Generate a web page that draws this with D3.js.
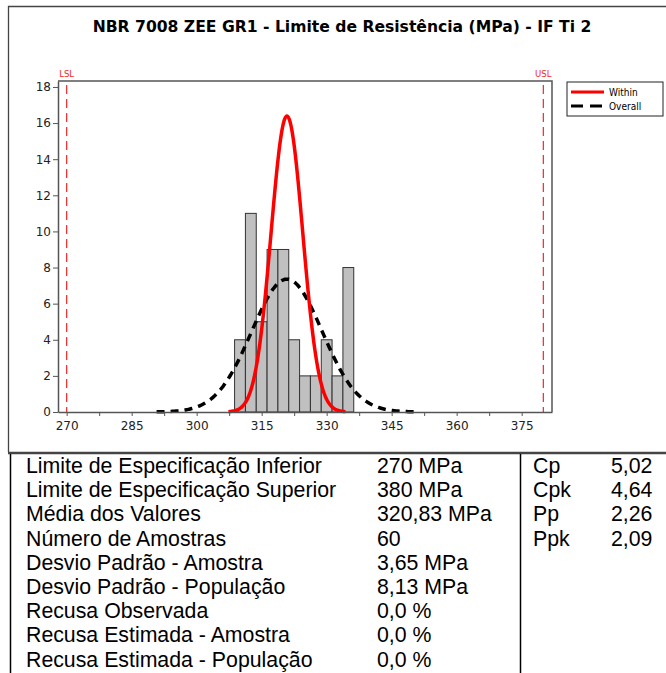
<!DOCTYPE html>
<html>
<head>
<meta charset="utf-8">
<script src="https://cdn.jsdelivr.net/npm/d3@7"></script>
<style>
  body { margin: 0; background: #fff; }
  svg { display: block; }
</style>
</head>
<body>
<div class="chart"></div>
<script>
// Capability histogram, NBR 7008 ZEE GR1 - Limite de Resistencia

var title = "NBR 7008 ZEE GR1 - Limite de Resistência (MPa) - IF Ti 2";

// histogram bins (centres, MPa) and counts
var binCenters = [310, 312.5, 315, 317.5, 320, 322.5, 325, 327.5, 330, 332.5, 335];
var binCounts  = [4, 11, 5, 9, 9, 4, 2, 2, 4, 2, 8];
var binWidth   = 2.5;

var xTicks = [270, 285, 300, 315, 330, 345, 360, 375];
var xMinor = [277.5, 292.5, 307.5, 322.5, 337.5, 352.5, 367.5];
var yTicks = [0, 2, 4, 6, 8, 10, 12, 14, 16, 18];

var lsl = 270, usl = 380;
var mean = 320.83, sdWithin = 3.65, sdOverall = 8.13, nSamples = 60;

var statLabels = ["Limite de Especificação Inferior", "Limite de Especificação Superior",
                  "Média dos Valores", "Número de Amostras", "Desvio Padrão - Amostra",
                  "Desvio Padrão - População", "Recusa Observada",
                  "Recusa Estimada - Amostra", "Recusa Estimada - População"];
var statValues = ["270 MPa", "380 MPa", "320,83 MPa", "60", "3,65 MPa", "8,13 MPa",
                  "0,0 %", "0,0 %", "0,0 %"];
var capLabels = ["Cp", "Cpk", "Pp", "Ppk"];
var capValues = ["5,02", "4,64", "2,26", "2,09"];

var W = 666, H = 673;
var plot = {left: 58, right: 552, top: 81, bottom: 412};
var tableFont = 21.3;

var svg = d3.select(".chart").append("svg")
    .attr("width", W)
    .attr("height", H);

var x = d3.scaleLinear().domain([268, 382]).range([plot.left, plot.right]);
var y = d3.scaleLinear().domain([0, 18.33]).range([plot.bottom, plot.top]);

// outer frame of chart
svg.append("path")
    .attr("d", "M8.5,452 L8.5,6.5 L666,6.5")
    .attr("fill", "none")
    .attr("stroke", "#444")
    .attr("stroke-width", 1.3);
svg.append("line")
    .attr("x1", 8).attr("x2", W)
    .attr("y1", 453).attr("y2", 453)
    .attr("stroke", "#444")
    .attr("stroke-width", 2.5);

svg.append("text")
    .attr("x", 342).attr("y", 32)
    .attr("text-anchor", "middle")
    .attr("font-family", "DejaVu Sans, sans-serif")
    .attr("font-weight", "bold")
    .attr("font-size", 15.6)
    .attr("fill", "#000")
    .text(title);

// histogram bars
svg.selectAll(".bar")
    .data(binCenters)
    .enter()
    .append("rect")
    .attr("class", "bar")
    .attr("x", function(d) { return x(d - binWidth / 2); })
    .attr("width", function(d) { return x(d + binWidth / 2) - x(d - binWidth / 2); })
    .attr("y", function(d, i) { return y(binCounts[i]); })
    .attr("height", function(d, i) { return y(0) - y(binCounts[i]); })
    .attr("fill", "#c0c0c0")
    .attr("stroke", "#333")
    .attr("stroke-width", 1);

// spec limits
[{v: lsl, t: "LSL"}, {v: usl, t: "USL"}].forEach(function(s) {
    svg.append("line")
        .attr("x1", x(s.v)).attr("x2", x(s.v))
        .attr("y1", plot.top + 4).attr("y2", plot.bottom)
        .attr("stroke", "#f02828")
        .attr("stroke-width", 1.2)
        .attr("stroke-dasharray", "9,5");
    svg.append("text")
        .attr("x", x(s.v)).attr("y", 77)
        .attr("text-anchor", "middle")
        .attr("font-family", "DejaVu Sans Condensed, DejaVu Sans, sans-serif")
        .attr("font-size", 9.5)
        .attr("fill", "#f02828")
        .text(s.t);
});

// normal curves from the stated mean / std deviations
function normalCurve(sd) {
    var k = nSamples * binWidth / (sd * Math.sqrt(2 * Math.PI));
    return d3.range(-3.7, 3.7001, 0.05).map(function(z) {
        var v = mean + z * sd;
        return [v, k * Math.exp(-0.5 * z * z)];
    });
}

var line = d3.line()
    .x(function(d) { return x(d[0]); })
    .y(function(d) { return y(d[1]); })
    .curve(d3.curveBasis);

svg.append("path")
    .datum(normalCurve(sdOverall))
    .attr("d", line)
    .attr("fill", "none")
    .attr("stroke", "#000")
    .attr("stroke-width", 3.5)
    .attr("stroke-dasharray", "8,6");

svg.append("path")
    .datum(normalCurve(sdWithin))
    .attr("d", line)
    .attr("fill", "none")
    .attr("stroke", "#ff0000")
    .attr("stroke-width", 3.5);

// plot frame (top/right)
svg.append("path")
    .attr("d", "M" + plot.left + "," + plot.top + " L" + plot.right + "," + plot.top + " L" + plot.right + "," + plot.bottom)
    .attr("fill", "none")
    .attr("stroke", "#555")
    .attr("stroke-width", 1.5);

// axes
var xAxis = svg.append("g")
    .attr("transform", "translate(0," + plot.bottom + ")")
    .call(d3.axisBottom(x).tickValues(xTicks).tickSize(4).tickPadding(5).tickSizeOuter(0));
svg.append("g")
    .attr("transform", "translate(0," + plot.bottom + ")")
    .call(d3.axisBottom(x).tickValues(xMinor).tickSize(4).tickFormat("").tickSizeOuter(0))
    .select(".domain").remove();
var yAxis = svg.append("g")
    .attr("transform", "translate(" + plot.left + ",0)")
    .call(d3.axisLeft(y).tickValues(yTicks).tickSize(5).tickPadding(2).tickSizeOuter(0));

svg.selectAll(".domain").attr("stroke", "#555").attr("stroke-width", 1.5);
svg.selectAll(".tick line").attr("stroke", "#555");
svg.selectAll(".tick text")
    .attr("font-family", "DejaVu Sans, sans-serif")
    .attr("font-size", 12)
    .attr("fill", "#222");

// legend
var lg = svg.append("g").attr("transform", "translate(567,82)");
lg.append("rect")
    .attr("width", 96).attr("height", 34)
    .attr("fill", "#fff")
    .attr("stroke", "#222")
    .attr("stroke-width", 1);
var legendItems = [{name: "Within", color: "#ff0000", dash: null},
                   {name: "Overall", color: "#000", dash: "12,7"}];
legendItems.forEach(function(d, i) {
    var ly = 10 + i * 14;
    lg.append("line")
        .attr("x1", 4).attr("x2", 37)
        .attr("y1", ly).attr("y2", ly)
        .attr("stroke", d.color)
        .attr("stroke-width", 3)
        .attr("stroke-dasharray", d.dash);
    lg.append("text")
        .attr("x", 42).attr("y", ly + 3.5)
        .attr("font-family", "DejaVu Sans Condensed, DejaVu Sans, sans-serif")
        .attr("font-size", 10)
        .attr("fill", "#000")
        .text(d.name);
});

// statistics table
svg.append("line")
    .attr("x1", 10.5).attr("x2", 10.5)
    .attr("y1", 454).attr("y2", H)
    .attr("stroke", "#000").attr("stroke-width", 1.5);
svg.append("line")
    .attr("x1", 520.5).attr("x2", 520.5)
    .attr("y1", 454).attr("y2", H)
    .attr("stroke", "#000").attr("stroke-width", 1.5);

var rowY = function(i) { return 473 + i * 24.2; };

function column(cls, data, xPos) {
    svg.selectAll("." + cls)
        .data(data)
        .enter()
        .append("text")
        .attr("class", cls)
        .attr("x", xPos)
        .attr("y", function(d, i) { return rowY(i); })
        .attr("font-family", "Liberation Sans, Arial, sans-serif")
        .attr("font-size", tableFont)
        .attr("fill", "#000")
        .text(function(d) { return d; });
}

column("statLabel", statLabels, 26);
column("statValue", statValues, 377);
column("capLabel", capLabels, 533);
column("capValue", capValues, 611);
</script>
</body>
</html>
